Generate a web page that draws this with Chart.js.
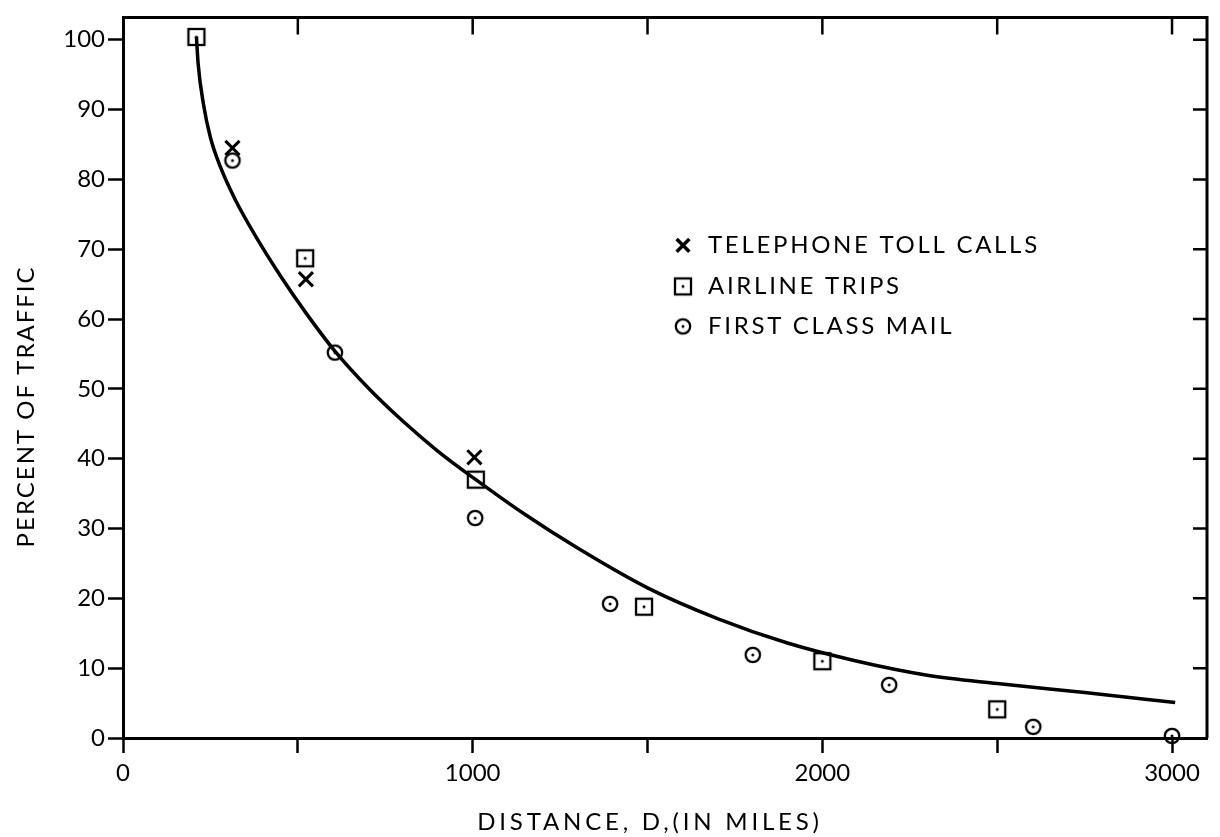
<!DOCTYPE html>
<html>
<head>
<meta charset="utf-8">
<title>Percent of traffic by distance</title>
<script src="https://cdn.jsdelivr.net/npm/chart.js@4/dist/chart.umd.min.js"></script>
<style>
  html, body { margin: 0; padding: 0; background: #fff; }
  #wrap { width: 1220px; height: 837px; }
</style>
</head>
<body>
<div id="wrap"><canvas id="trafficChart"></canvas></div>
<script>
// values
const phoneX = [313, 523, 1005];
const phoneY = [84.5, 65.7, 40.2];

const airlineX = [210, 521, 1009, 1490, 2000, 2500];
const airlineY = [100.4, 68.7, 37.0, 18.8, 11.0, 4.1];

const mailX = [313, 606, 1007, 1393, 1801, 2191, 2603, 3000];
const mailY = [82.7, 55.2, 31.5, 19.2, 11.9, 7.6, 1.6, 0.3];

// hand drawn fitted curve, traced point by point
const curveX = [210, 215, 230, 250, 280, 320, 380, 450, 520, 606, 700, 800, 900, 1009, 1150, 1300, 1500, 1700, 1900, 2100, 2300, 2500, 2750, 3009];
const curveY = [100.4, 96.5, 90.8, 86.0, 81.6, 77.2, 71.8, 66.2, 61.1, 55.4, 50.2, 45.4, 41.1, 37.0, 32.0, 27.2, 21.5, 17.1, 13.6, 11.0, 9.0, 7.8, 6.5, 5.1];

const xTicks = [0, 500, 1000, 1500, 2000, 2500, 3000];
const yTicks = [0, 10, 20, 30, 40, 50, 60, 70, 80, 90, 100];

const legendLabels = ['TELEPHONE TOLL CALLS', 'AIRLINE TRIPS', 'FIRST CLASS MAIL'];
const xTitle = 'DISTANCE, D,(IN MILES)';
const yTitle = 'PERCENT OF TRAFFIC';

const FONT = 'Lato, "DejaVu Sans", sans-serif';

function toPoints(xs, ys) {
    return xs.map((x, i) => ({ x: x, y: ys[i] }));
}

// small hollow marker with a dot in the middle, used as pointStyle
function makeMarker(shape) {
    const c = document.createElement('canvas');
    c.width = 22;
    c.height = 22;
    const g = c.getContext('2d');
    g.strokeStyle = '#000';
    g.fillStyle = '#000';
    g.lineWidth = 2.3;
    if (shape === 'square') {
        g.strokeRect(3, 3, 16, 16);
    } else {
        g.beginPath();
        g.arc(11, 11, 7.2, 0, Math.PI * 2);
        g.stroke();
    }
    g.beginPath();
    g.arc(11, 11, 1.5, 0, Math.PI * 2);
    g.fill();
    return c;
}

const squareMark = makeMarker('square');
const circleMark = makeMarker('circle');

// top / right frame, inward ticks, legend and axis titles
const paperFrame = {
    id: 'paperFrame',
    afterDraw(chart) {
        const ctx = chart.ctx;
        const a = chart.chartArea;
        const xs = chart.scales.x;
        const ys = chart.scales.y;

        ctx.save();
        ctx.strokeStyle = '#000';
        ctx.fillStyle = '#000';
        ctx.lineWidth = 3;
        ctx.beginPath();
        ctx.moveTo(a.left, a.top);
        ctx.lineTo(a.right, a.top);
        ctx.lineTo(a.right, a.bottom);
        ctx.stroke();

        ctx.lineWidth = 2.5;
        ctx.beginPath();
        xs.ticks.forEach(t => {
            if (t.value <= 0) return;
            const px = xs.getPixelForValue(t.value);
            ctx.moveTo(px, a.top);
            ctx.lineTo(px, a.top + 17);
        });
        ys.ticks.forEach(t => {
            if (t.value <= 0) return;
            const py = ys.getPixelForValue(t.value);
            ctx.moveTo(a.right, py);
            ctx.lineTo(a.right - 14, py);
        });
        ctx.stroke();

        // legend
        const markX = a.left + 560;
        const textX = a.left + 585;
        const rows = [a.top + 228, a.top + 269, a.top + 309];
        ctx.lineWidth = 3.5;
        Chart.helpers.drawPoint(ctx, { pointStyle: 'crossRot', radius: 9, borderWidth: 3.5 }, markX, rows[0]);
        ctx.drawImage(squareMark, markX - 11, rows[1] - 11);
        ctx.drawImage(circleMark, markX - 11, rows[2] - 11);

        ctx.font = '24px ' + FONT;
        ctx.textBaseline = 'middle';
        ctx.textAlign = 'left';
        ctx.letterSpacing = '2.7px';
        legendLabels.forEach((txt, i) => ctx.fillText(txt, textX, rows[i]));

        // axis titles
        ctx.textAlign = 'center';
        ctx.letterSpacing = '3.8px';
        ctx.fillText(xTitle, a.left + 527, a.bottom + 84);

        ctx.letterSpacing = '2px';
        ctx.translate(26, a.top + 389);
        ctx.rotate(-Math.PI / 2);
        ctx.fillText(yTitle, 0, 0);
        ctx.restore();
    }
};

function createChart() {
    const ctx = document.getElementById('trafficChart').getContext('2d');

    const tickFont = { family: FONT, size: 24 };

    new Chart(ctx, {
        type: 'scatter',
        data: {
            datasets: [
                {
                    label: 'fitted curve',
                    data: toPoints(curveX, curveY),
                    showLine: true,
                    borderColor: '#000',
                    borderWidth: 3.5,
                    pointRadius: 0,
                    cubicInterpolationMode: 'monotone'
                },
                {
                    label: legendLabels[0],
                    data: toPoints(phoneX, phoneY),
                    pointStyle: 'crossRot',
                    pointRadius: 10,
                    borderColor: '#000',
                    backgroundColor: '#000',
                    pointBorderWidth: 3,
                    clip: 12
                },
                {
                    label: legendLabels[1],
                    data: toPoints(airlineX, airlineY),
                    pointStyle: squareMark,
                    pointRadius: 9,
                    clip: 12
                },
                {
                    label: legendLabels[2],
                    data: toPoints(mailX, mailY),
                    pointStyle: circleMark,
                    pointRadius: 9,
                    clip: 12
                }
            ]
        },
        options: {
            responsive: true,
            maintainAspectRatio: false,
            animation: false,
            events: [],
            layout: {
                padding: { top: 16, right: 3, left: 0, bottom: 0 }
            },
            plugins: {
                legend: { display: false },
                tooltip: { enabled: false }
            },
            scales: {
                x: {
                    type: 'linear',
                    min: 0,
                    max: 3100,
                    afterBuildTicks: s => { s.ticks = xTicks.map(v => ({ value: v })); },
                    afterFit: s => { s.height = 99; },
                    ticks: {
                        autoSkip: false,
                        maxRotation: 0,
                        color: '#000',
                        font: tickFont,
                        padding: 6,
                        callback: v => (v % 1000 === 0 ? String(v) : '')
                    },
                    grid: {
                        drawOnChartArea: false,
                        tickLength: 15,
                        tickColor: '#000',
                        tickWidth: 2.5
                    },
                    border: { color: '#000', width: 3 }
                },
                y: {
                    min: 0,
                    max: 103.2,
                    afterBuildTicks: s => { s.ticks = yTicks.map(v => ({ value: v })); },
                    afterFit: s => { s.width = 123; },
                    ticks: {
                        autoSkip: false,
                        color: '#000',
                        font: tickFont,
                        padding: 3
                    },
                    grid: {
                        drawOnChartArea: false,
                        tickLength: 15,
                        tickColor: '#000',
                        tickWidth: 2.5
                    },
                    border: { color: '#000', width: 3 }
                }
            }
        },
        plugins: [paperFrame]
    });
}

createChart();
</script>
</body>
</html>
